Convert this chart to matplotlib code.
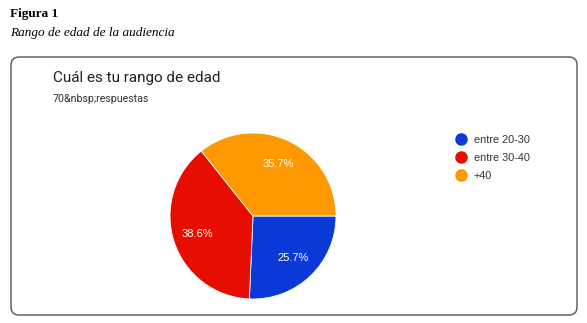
import matplotlib
matplotlib.use("Agg")
import matplotlib.pyplot as plt
from matplotlib.patches import FancyBboxPatch
from matplotlib.lines import Line2D
from matplotlib.transforms import IdentityTransform

categories = ["entre 20-30", "entre 30-40", "+40"]
values = [25.7, 38.6, 35.7]
colors = ["#0b39d8", "#e60e00", "#ff9900"]
caption_num = "Figura 1"
caption_title = "Rango de edad de la audiencia"
chart_title = "Cuál es tu rango de edad"
chart_sub = "70&nbsp;respuestas"

W, H = 587, 323
fig = plt.figure(figsize=(W / 100, H / 100), dpi=100)
fig.patch.set_facecolor("white")

def fx(px):
    return px / W

def fy(py):
    return 1 - py / H

# caption
fig.text(fx(10), fy(14), caption_num, family="Liberation Serif", weight="bold",
         fontsize=9.5, va="center", ha="left", color="black")
fig.text(fx(10), fy(33), caption_title, family="Liberation Serif", style="italic",
         fontsize=9.5, va="center", ha="left", color="black")

# rounded frame (pixel coordinates)
box = FancyBboxPatch((11, H - 315), 566, 258,
                     boxstyle="round,pad=0,rounding_size=8",
                     transform=IdentityTransform(), facecolor="none",
                     edgecolor="#555555", linewidth=1.0, zorder=-1)
fig.patches.append(box)

fig.text(fx(53), fy(78), chart_title, family="Roboto", fontsize=11,
         va="center", ha="left", color="#202124")
fig.text(fx(53), fy(99), chart_sub, family="Roboto", fontsize=7.7,
         va="center", ha="left", color="#333333")

# pie
cx, cy, r = 253, 216, 83
ax = fig.add_axes([fx(cx - r), fy(cy + r), fx(2 * r), (2 * r) / H])
wedges, texts, autotexts = ax.pie(values, colors=colors, startangle=0, counterclock=False,
                                  autopct="%1.1f%%", pctdistance=0.7,
                                  wedgeprops=dict(edgecolor="white", linewidth=0.6),
                                  textprops=dict(color="white", fontsize=8,
                                                 family="Liberation Sans"))
ax.set_xlim(-1, 1)
ax.set_ylim(-1, 1)
ax.set_aspect("equal")
ax.axis("off")

# legend
handles = [Line2D([0], [0], marker="o", linestyle="none", markersize=8,
                  markerfacecolor=c, markeredgecolor=c) for c in colors]
leg = fig.legend(handles, categories, loc="upper left",
                 bbox_to_anchor=(fx(443), fy(125)), frameon=False,
                 handletextpad=0.45, labelspacing=0.75, handlelength=1.5,
                 prop=dict(family="Liberation Sans", size=7.8))
for t in leg.get_texts():
    t.set_color("#333333")

fig.savefig("out.png", dpi=100)
